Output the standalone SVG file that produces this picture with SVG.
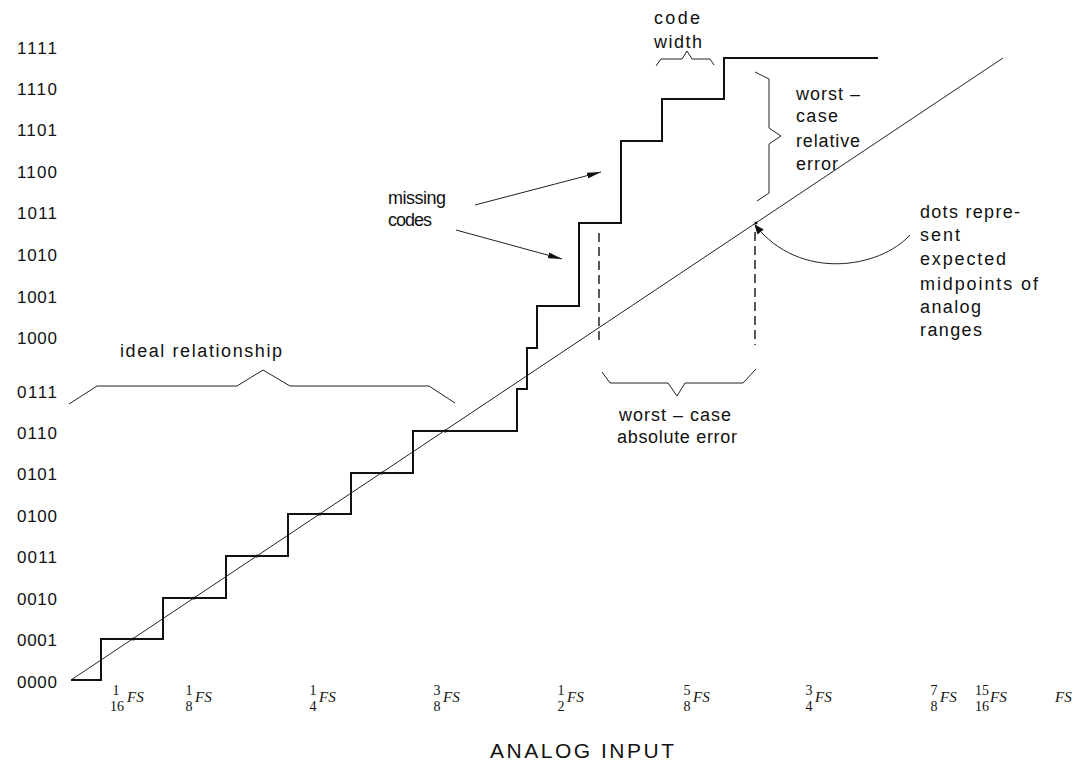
<svg xmlns="http://www.w3.org/2000/svg" width="1077" height="765" viewBox="0 0 1077 765">
<defs>
<style>
.t{font-family:"Liberation Sans",Arial,sans-serif;font-size:18px;fill:#111}
.y{font-family:"Liberation Sans",Arial,sans-serif;font-size:17px;fill:#111}
.f{font-family:"Liberation Serif","Times New Roman",serif;font-size:14px;fill:#111;text-anchor:middle}
.fs{font-family:"Liberation Serif","Times New Roman",serif;font-size:15px;font-style:italic;fill:#111}
.stair{fill:none;stroke:#111;stroke-width:2}
.thin{fill:none;stroke:#222;stroke-width:1}
.dash{fill:none;stroke:#222;stroke-width:1.5;stroke-dasharray:9 5}
.dot{fill:#111}
</style>
<marker id="ah" viewBox="0 0 14 6" refX="14" refY="3" markerWidth="14" markerHeight="6" markerUnits="userSpaceOnUse" orient="auto">
<path d="M0,0 L14,3 L0,6 Z" fill="#111"/>
</marker>
<marker id="ah2" viewBox="0 0 10 8" refX="9" refY="4" markerWidth="10" markerHeight="8" markerUnits="userSpaceOnUse" orient="auto">
<path d="M0,0 L10,4 L0,8 Z" fill="#111"/>
</marker>
</defs>
<rect width="1077" height="765" fill="#fff"/>

<g id="y-axis-labels">
<text class="y" x="17" y="54" textLength="40">1111</text>
<text class="y" x="17" y="95" textLength="40">1110</text>
<text class="y" x="17" y="136" textLength="40">1101</text>
<text class="y" x="17" y="178" textLength="40">1100</text>
<text class="y" x="17" y="219" textLength="40">1011</text>
<text class="y" x="17" y="261" textLength="40">1010</text>
<text class="y" x="17" y="303" textLength="40">1001</text>
<text class="y" x="17" y="344" textLength="40">1000</text>
<text class="y" x="17" y="398" textLength="40">0111</text>
<text class="y" x="17" y="439" textLength="40">0110</text>
<text class="y" x="17" y="480" textLength="40">0101</text>
<text class="y" x="17" y="522" textLength="40">0100</text>
<text class="y" x="17" y="563" textLength="40">0011</text>
<text class="y" x="17" y="605" textLength="40">0010</text>
<text class="y" x="17" y="646" textLength="40">0001</text>
<text class="y" x="17" y="688" textLength="40">0000</text>
</g>

<g id="x-axis-labels">
<text class="f" x="116" y="695">1</text><text class="f" x="117" y="711">16</text><text class="fs" x="127" y="702">FS</text>
<text class="f" x="189" y="695">1</text><text class="f" x="189" y="711">8</text><text class="fs" x="195" y="702">FS</text>
<text class="f" x="313" y="695">1</text><text class="f" x="313" y="711">4</text><text class="fs" x="319" y="702">FS</text>
<text class="f" x="437" y="695">3</text><text class="f" x="437" y="711">8</text><text class="fs" x="443" y="702">FS</text>
<text class="f" x="561" y="695">1</text><text class="f" x="561" y="711">2</text><text class="fs" x="567" y="702">FS</text>
<text class="f" x="687" y="695">5</text><text class="f" x="687" y="711">8</text><text class="fs" x="693" y="702">FS</text>
<text class="f" x="809" y="695">3</text><text class="f" x="809" y="711">4</text><text class="fs" x="815" y="702">FS</text>
<text class="f" x="934" y="695">7</text><text class="f" x="934" y="711">8</text><text class="fs" x="940" y="702">FS</text>
<text class="f" x="982" y="695">15</text><text class="f" x="982" y="711">16</text><text class="fs" x="990" y="702">FS</text>
<text class="fs" x="1055" y="702">FS</text>
<text class="t" x="490" y="758" style="font-size:21px" textLength="184">ANALOG INPUT</text>
</g>

<g id="connectors">
<path id="ideal-line" class="thin" d="M71,680 L1003,58"/>
<path id="staircase" class="stair" d="M71,680 H101 V639 H163 V598 H226 V556 H288 V514 H351 V473 H413 V431 H517 V389 H527 V348 H537 V306 H579 V223 H621 V141 H662 V99 H724 V58 H878"/>
<g id="dots">
<circle class="dot" cx="133" cy="639" r="1.6"/>
<circle class="dot" cx="194" cy="598" r="1.6"/>
<circle class="dot" cx="257" cy="556" r="1.6"/>
<circle class="dot" cx="320" cy="514" r="1.6"/>
<circle class="dot" cx="382" cy="473" r="1.6"/>
<circle class="dot" cx="445" cy="431" r="1.6"/>
<circle class="dot" cx="756" cy="223" r="1.6"/>
</g>
<path class="dash" d="M599,233 V343"/>
<path class="dash" d="M755,232 V345"/>
<path class="thin" d="M475,205 L601,172" marker-end="url(#ah)"/>
<path class="thin" d="M456,230 L562,259" marker-end="url(#ah)"/>
<path class="thin" d="M910,235 C880,268 800,282 755,225" marker-end="url(#ah2)"/>
<path id="brace-ideal" class="thin" d="M69,404 L97,386 L237,386 L263,370 L290,386 L429,386 L455,403"/>
<path id="brace-abs" class="thin" d="M602,372 L610,383 L668,383 L677,396 L685,383 L743,383 L756,369"/>
<path id="brace-code" class="thin" d="M656,66 L661,59 L682,59 L687,51 L692,59 L710,59 L714,65"/>
<path id="brace-rel" class="thin" d="M755,72 L769,79 L769,128 L781,136 L769,144 L769,193 L757,201"/>
</g>

<g id="label-ideal"><text class="t" x="120" y="357" textLength="162">ideal relationship</text></g>
<g id="label-missing">
<text class="t" x="388" y="204" textLength="58">missing</text>
<text class="t" x="388" y="226" textLength="44">codes</text>
</g>
<g id="label-code-width">
<text class="t" x="654" y="24" textLength="46">code</text>
<text class="t" x="654" y="48" textLength="48">width</text>
</g>
<g id="label-relative">
<text class="t" x="796" y="100" textLength="64">worst –</text>
<text class="t" x="796" y="122" textLength="42">case</text>
<text class="t" x="796" y="147" textLength="64">relative</text>
<text class="t" x="796" y="170" textLength="42">error</text>
</g>
<g id="label-absolute">
<text class="t" x="619" y="421" textLength="112">worst – case</text>
<text class="t" x="617" y="443" textLength="120">absolute error</text>
</g>
<g id="label-dots">
<text class="t" x="920" y="218" textLength="100">dots repre-</text>
<text class="t" x="920" y="241" textLength="40">sent</text>
<text class="t" x="920" y="265" textLength="86">expected</text>
<text class="t" x="920" y="290" textLength="118">midpoints of</text>
<text class="t" x="920" y="313" textLength="61">analog</text>
<text class="t" x="920" y="336" textLength="62">ranges</text>
</g>
</svg>
